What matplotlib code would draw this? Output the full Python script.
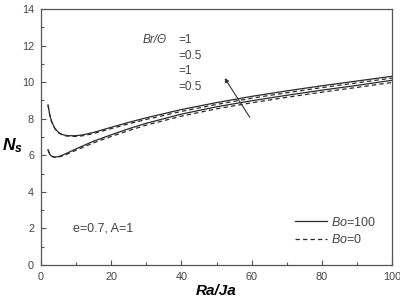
import matplotlib
matplotlib.use("Agg")
import matplotlib.pyplot as plt
from matplotlib.ticker import MultipleLocator

plt.rcParams["font.family"] = ["Liberation Sans", "DejaVu Sans"]
plt.rcParams["mathtext.fontset"] = "custom"
plt.rcParams["mathtext.rm"] = "Liberation Sans"
plt.rcParams["mathtext.it"] = "Liberation Sans:italic"
plt.rcParams["mathtext.bf"] = "Liberation Sans:bold:italic"

# Ra/Ja values
ra_ja = [2, 2.5, 3, 4, 5, 6, 7, 8, 10, 12, 15, 20, 25, 30, 40, 50, 60, 70, 80, 90, 100]

# Ns for Br/Theta = 1 (upper pair)
ns_br1_bo100 = [8.75, 8.2, 7.85, 7.45, 7.25, 7.14, 7.09, 7.07, 7.07, 7.12, 7.25,
                7.53, 7.8, 8.05, 8.5, 8.88, 9.22, 9.52, 9.8, 10.06, 10.32]
ns_br1_bo0 = [8.75, 8.2, 7.85, 7.44, 7.23, 7.12, 7.06, 7.04, 7.03, 7.07, 7.19,
              7.46, 7.72, 7.96, 8.4, 8.78, 9.12, 9.42, 9.7, 9.96, 10.22]
# Ns for Br/Theta = 0.5 (lower pair)
ns_br05_bo100 = [6.3, 6.05, 5.95, 5.9, 5.93, 6.0, 6.08, 6.17, 6.35, 6.52, 6.77,
                 7.12, 7.45, 7.75, 8.25, 8.65, 8.98, 9.28, 9.56, 9.82, 10.1]
ns_br05_bo0 = [6.3, 6.05, 5.94, 5.88, 5.9, 5.96, 6.03, 6.11, 6.28, 6.44, 6.68,
               7.03, 7.35, 7.65, 8.14, 8.54, 8.87, 9.17, 9.45, 9.71, 9.98]

br_labels = ["=1", "=0.5", "=1", "=0.5"]
br_label_y = [12.3, 11.45, 10.6, 9.75]

fig = plt.figure(figsize=(4.0, 3.03), dpi=100)
ax = fig.add_axes([0.1025, 0.1254, 0.8775, 0.845])

lc = "#2a2a2a"
dash = (0, (3.5, 2.5))
ax.plot(ra_ja, ns_br1_bo100, color=lc, lw=0.9, label=r"$Bo$=100")
ax.plot(ra_ja, ns_br1_bo0, color=lc, lw=0.9, ls=dash, label=r"$Bo$=0")
ax.plot(ra_ja, ns_br05_bo100, color=lc, lw=0.9)
ax.plot(ra_ja, ns_br05_bo0, color=lc, lw=0.9, ls=dash)

ax.set_xlim(0, 100)
ax.set_ylim(0, 14)
ax.xaxis.set_major_locator(MultipleLocator(20))
ax.xaxis.set_minor_locator(MultipleLocator(10))
ax.yaxis.set_major_locator(MultipleLocator(2))
ax.yaxis.set_minor_locator(MultipleLocator(1))
ax.tick_params(which="both", direction="in", colors="#555555",
               labelcolor="#444444", labelsize=7.8, width=0.8)
ax.tick_params(which="major", length=3.5)
ax.tick_params(which="minor", length=2)
ax.tick_params(axis="x", pad=5)
ax.tick_params(axis="y", pad=5)
for s in ax.spines.values():
    s.set_color("#555555")
    s.set_linewidth(0.9)

ax.set_ylabel(r"$\mathbf{N_s}$", rotation=0, fontsize=12.5)
ax.yaxis.set_label_coords(-0.08, 0.43)
ax.set_xlabel("Ra/Ja", fontweight="bold", style="italic", fontsize=11)
ax.xaxis.set_label_coords(0.5, -0.075)

ax.text(29, 12.3, "Br/Θ", style="italic", fontsize=8.5, color="#444444",
        va="center")
for lab, yy in zip(br_labels, br_label_y):
    ax.text(39.2, yy, lab, fontsize=8.5, color="#444444", va="center")

ax.annotate("", xy=(51.9, 10.35), xytext=(59.9, 7.95),
            arrowprops=dict(arrowstyle="-|>", color="#333333", lw=0.8,
                            mutation_scale=6))

ax.text(9.2, 1.97, "e=0.7, A=1", fontsize=9, color="#444444", va="center")

ax.legend(loc="center left", bbox_to_anchor=(0.724, 0.133), frameon=False,
          fontsize=9, handlelength=2.55, handletextpad=0.3, borderpad=0,
          borderaxespad=0, labelspacing=0.35, labelcolor="#444444")

fig.savefig("out.png", dpi=100)
